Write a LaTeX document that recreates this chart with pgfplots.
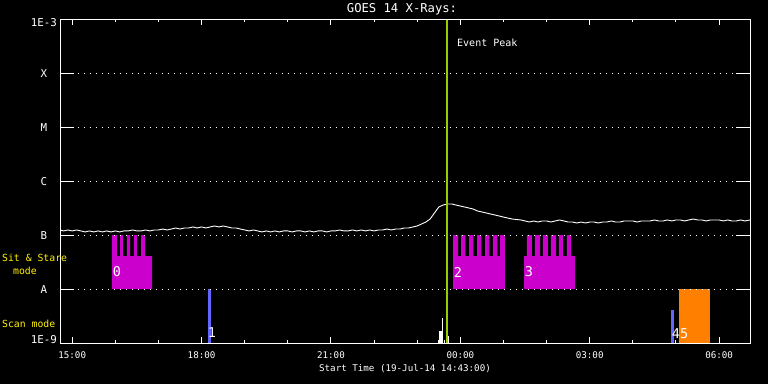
\documentclass[border=0pt]{standalone}
\usepackage{pgfplots}
\pgfplotsset{compat=1.18}
\usepackage{fontspec}
\setmainfont{DejaVu Sans Mono}
\definecolor{ssmag}{HTML}{CC00CC}
\definecolor{scanblue}{HTML}{6464FF}
\definecolor{scanorange}{HTML}{FF8000}
\definecolor{peakgreen}{HTML}{99CC00}
\begin{document}
\begin{tikzpicture}[x=1pt,y=1pt]
\path[use as bounding box, fill=black] (0,0) rectangle (768,384);
\begin{axis}[
  at={(60pt,41pt)}, anchor=south west,
  scale only axis, width=690pt, height=324pt,
  xmin=14.71667, xmax=30.71667,
  ymode=log, ymin=1e-9, ymax=1e-3,
  axis on top,
  axis line style={white, line width=1pt},
  xtick={15,18,21,24,27,30},
  xticklabels={15:00,18:00,21:00,00:00,03:00,06:00},
  minor xtick={16,17,19,20,22,23,25,26,28,29},
  major tick length=6pt, minor tick length=3pt,
  xtick style={white, line width=1pt},
  xticklabel style={white, font=\fontsize{9.2}{10}\selectfont, yshift=-5.5pt},
  ytick={1e-8,1e-7,1e-6,1e-5,1e-4},
  yticklabels={},
  ytick style={draw=none},
  ymajorgrids,
  major grid style={white, line width=1pt, dash pattern=on 1pt off 5pt},
]
% GOES X-ray flux (white)
\addplot[white, line width=0.9pt] coordinates {
(14.717,1.24e-7)(14.8,1.19e-7)(14.9,1.24e-7)(15.0,1.19e-7)(15.1,1.24e-7)(15.2,1.19e-7)
(15.3,1.14e-7)(15.4,1.19e-7)(15.5,1.14e-7)(15.6,1.19e-7)(15.7,1.14e-7)(15.8,1.19e-7)
(15.9,1.14e-7)(16.0,1.19e-7)(16.1,1.14e-7)(16.2,1.19e-7)(16.3,1.19e-7)(16.4,1.24e-7)
(16.5,1.19e-7)(16.6,1.19e-7)(16.7,1.24e-7)(16.8,1.19e-7)(16.9,1.24e-7)(17.0,1.24e-7)
(17.1,1.29e-7)(17.2,1.24e-7)(17.3,1.29e-7)(17.4,1.35e-7)(17.5,1.29e-7)(17.6,1.35e-7)
(17.7,1.35e-7)(17.8,1.41e-7)(17.9,1.35e-7)(18.0,1.41e-7)(18.1,1.35e-7)(18.2,1.41e-7)
(18.3,1.47e-7)(18.4,1.41e-7)(18.5,1.47e-7)(18.6,1.41e-7)(18.7,1.35e-7)(18.8,1.35e-7)
(18.9,1.29e-7)(19.0,1.24e-7)(19.1,1.19e-7)(19.2,1.24e-7)(19.3,1.19e-7)(19.4,1.14e-7)
(19.5,1.19e-7)(19.6,1.14e-7)(19.7,1.19e-7)(19.8,1.14e-7)(19.9,1.19e-7)(20.0,1.19e-7)
(20.1,1.14e-7)(20.2,1.19e-7)(20.3,1.19e-7)(20.4,1.14e-7)(20.5,1.19e-7)(20.6,1.14e-7)
(20.7,1.19e-7)(20.8,1.19e-7)(20.9,1.14e-7)(21.0,1.19e-7)(21.1,1.19e-7)(21.2,1.24e-7)
(21.3,1.19e-7)(21.4,1.19e-7)(21.5,1.24e-7)(21.6,1.19e-7)(21.7,1.24e-7)(21.8,1.19e-7)
(21.9,1.24e-7)(22.0,1.19e-7)(22.1,1.24e-7)(22.2,1.24e-7)(22.3,1.29e-7)(22.4,1.24e-7)
(22.5,1.29e-7)(22.6,1.29e-7)(22.7,1.35e-7)(22.8,1.35e-7)(22.9,1.41e-7)(23.0,1.47e-7)
(23.1,1.60e-7)(23.2,1.74e-7)(23.3,1.98e-7)(23.4,2.56e-7)(23.5,3.30e-7)(23.6,3.59e-7)
(23.7,3.75e-7)(23.8,3.75e-7)(23.9,3.59e-7)(24.0,3.44e-7)(24.1,3.30e-7)(24.2,3.16e-7)
(24.3,3.02e-7)(24.4,2.78e-7)(24.5,2.67e-7)(24.6,2.56e-7)(24.7,2.45e-7)(24.8,2.35e-7)
(24.9,2.25e-7)(25.0,2.15e-7)(25.1,2.06e-7)(25.2,1.98e-7)(25.3,1.94e-7)(25.4,1.90e-7)
(25.5,1.82e-7)(25.6,1.74e-7)(25.7,1.82e-7)(25.8,1.74e-7)(25.9,1.82e-7)(26.0,1.82e-7)
(26.1,1.74e-7)(26.2,1.82e-7)(26.3,1.90e-7)(26.4,1.82e-7)(26.5,1.74e-7)(26.6,1.74e-7)
(26.7,1.67e-7)(26.8,1.74e-7)(26.9,1.67e-7)(27.0,1.74e-7)(27.1,1.74e-7)(27.2,1.67e-7)
(27.3,1.74e-7)(27.4,1.74e-7)(27.5,1.82e-7)(27.6,1.74e-7)(27.7,1.74e-7)(27.8,1.82e-7)
(27.9,1.82e-7)(28.0,1.82e-7)(28.1,1.74e-7)(28.2,1.82e-7)(28.3,1.82e-7)(28.4,1.82e-7)
(28.5,1.90e-7)(28.6,1.82e-7)(28.7,1.82e-7)(28.8,1.90e-7)(28.9,1.82e-7)(29.0,1.90e-7)
(29.1,1.90e-7)(29.2,1.82e-7)(29.3,1.90e-7)(29.4,1.98e-7)(29.5,1.90e-7)(29.6,1.90e-7)
(29.7,1.82e-7)(29.8,1.90e-7)(29.9,1.90e-7)(30.0,1.90e-7)(30.1,1.82e-7)(30.2,1.90e-7)
(30.3,1.82e-7)(30.4,1.82e-7)(30.5,1.90e-7)(30.6,1.82e-7)(30.717,1.90e-7)
};
% Sit & Stare blocks (magenta combs)
\addplot[fill=ssmag, draw=none] coordinates {
(15.922,1e-8)(15.922,1e-7)(16.038,1e-7)(16.038,4.08e-8)(16.108,4.08e-8)(16.108,1e-7)
(16.177,1e-7)(16.177,4.08e-8)(16.270,4.08e-8)(16.270,1e-7)(16.340,1e-7)(16.340,4.08e-8)
(16.433,4.08e-8)(16.433,1e-7)(16.502,1e-7)(16.502,4.08e-8)(16.595,4.08e-8)(16.595,1e-7)
(16.688,1e-7)(16.688,4.08e-8)(16.850,4.08e-8)(16.850,1e-8)} -- cycle;
\addplot[fill=ssmag, draw=none] coordinates {
(23.830,1e-8)(23.830,1e-7)(23.946,1e-7)(23.946,4.08e-8)(24.016,4.08e-8)(24.016,1e-7)
(24.115,1e-7)(24.115,4.08e-8)(24.201,4.08e-8)(24.201,1e-7)(24.301,1e-7)(24.301,4.08e-8)
(24.387,4.08e-8)(24.387,1e-7)(24.486,1e-7)(24.486,4.08e-8)(24.572,4.08e-8)(24.572,1e-7)
(24.672,1e-7)(24.672,4.08e-8)(24.757,4.08e-8)(24.757,1e-7)(24.857,1e-7)(24.857,4.08e-8)
(24.920,4.08e-8)(24.920,1e-7)(25.035,1e-7)(25.035,1e-8)} -- cycle;
\addplot[fill=ssmag, draw=none] coordinates {
(25.476,1e-8)(25.476,4.08e-8)(25.545,4.08e-8)(25.545,1e-7)(25.661,1e-7)(25.661,4.08e-8)
(25.731,4.08e-8)(25.731,1e-7)(25.847,1e-7)(25.847,4.08e-8)(25.916,4.08e-8)(25.916,1e-7)
(26.032,1e-7)(26.032,4.08e-8)(26.102,4.08e-8)(26.102,1e-7)(26.218,1e-7)(26.218,4.08e-8)
(26.287,4.08e-8)(26.287,1e-7)(26.380,1e-7)(26.380,4.08e-8)(26.473,4.08e-8)(26.473,1e-7)
(26.566,1e-7)(26.566,4.08e-8)(26.659,4.08e-8)(26.659,1e-8)} -- cycle;
% Scan mode bars
\addplot[fill=scanblue, draw=none] coordinates {(18.148,1e-9)(18.148,1e-8)(18.218,1e-8)(18.218,1e-9)} -- cycle;
\addplot[fill=scanblue, draw=none] coordinates {(28.885,1e-9)(28.885,4.08e-9)(28.954,4.08e-9)(28.954,1e-9)} -- cycle;
\addplot[fill=scanorange, draw=none] coordinates {(29.071,1e-9)(29.071,1e-8)(29.790,1e-8)(29.790,1e-9)} -- cycle;
% small white event markers
\addplot[fill=white, draw=none] coordinates {(23.505,1e-9)(23.505,1.67e-9)(23.575,1.67e-9)(23.575,1e-9)} -- cycle;
\addplot[white, line width=0.9pt] table {
x y
23.494 1e-9
23.494 1.14e-9

23.586 1e-9
23.586 2.9e-9

23.632 1e-9
23.632 1.14e-9

23.725 1e-9
23.725 1.35e-9
};
% Event peak line
\addplot[peakgreen, line width=2pt] coordinates {(23.69,1e-9)(23.69,1e-3)};
\end{axis}
% y ticks (solid stubs) on both sides
\foreach \yy in {311,257,203,149,95} {
  \draw[white, line width=1pt] (60,\yy) -- (74,\yy);
  \draw[white, line width=1pt] (736,\yy) -- (750,\yy);
}
% y labels
\begin{scope}[every node/.style={white, inner sep=0pt, font=\fontsize{10.8}{12}\selectfont}]
\node[anchor=east] at (57,361) {1E-3};
\node at (44,310) {X};
\node at (44,256) {M};
\node at (44,202) {C};
\node at (44,148) {B};
\node at (44,94.5) {A};
\node[anchor=east] at (57,44.5) {1E-9};
\end{scope}
% side mode labels
\begin{scope}[every node/.style={yellow, inner sep=0pt, font=\fontsize{9.8}{11}\selectfont}]
\node[anchor=west] at (2,126) {Sit \& Stare};
\node[anchor=west] at (13,113) {mode};
\node[anchor=west] at (2,60.5) {Scan mode};
\end{scope}
% title, axis label, event label
\node[white, inner sep=0pt, font=\fontsize{12.2}{14}\selectfont] at (402,374.5) {GOES 14 X-Rays:};
\node[white, inner sep=0pt, font=\fontsize{9.2}{11}\selectfont] at (405,15.5) {Start Time (19-Jul-14 14:43:00)};
\node[white, inner sep=0pt, anchor=west, font=\fontsize{10}{12}\selectfont] at (457,341.5) {Event Peak};
% block numbers
\begin{scope}[every node/.style={white, inner sep=0pt, font=\fontsize{13.5}{15}\selectfont}]
\node at (117,112) {0};
\node at (458,112) {2};
\node at (529,112) {3};
\node at (212,51) {1};
\node at (680,50) {45};
\end{scope}
\end{tikzpicture}
\end{document}
